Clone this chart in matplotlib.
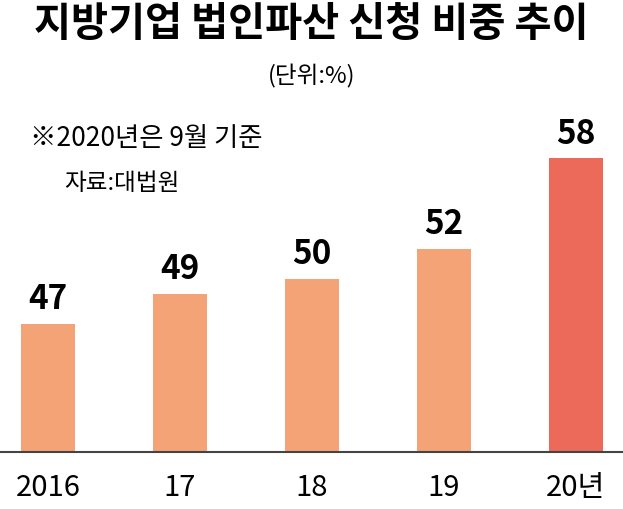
import matplotlib
matplotlib.use("Agg")
import matplotlib.pyplot as plt

# data
years = ["2016", "17", "18", "19", "20년"]
shares = [47, 49, 50, 52, 58]
bar_colors = ["#F4A377", "#F4A377", "#F4A377", "#F4A377", "#EC6A5A"]

title = "지방기업 법인파산 신청 비중 추이"
unit = "(단위:%)"
note = "※2020년은 9월 기준"
source = "자료:대법원"

num_font = ["Liberation Sans Narrow", "Noto Sans CJK KR", "DejaVu Sans"]
kr_font = ["Noto Sans CJK KR", "DejaVu Sans"]

fig = plt.figure(figsize=(6.23, 5.09), dpi=100)
ax = fig.add_axes([0, 0.112, 1, 0.69])

x = range(len(years))
bars = ax.bar(x, shares, width=0.41, color=bar_colors, zorder=2)

ax.set_xlim(-0.364, 4.356)
ax.set_ylim(38.5, 61.8)

for b, v in zip(bars, shares):
    ax.text(b.get_x() + b.get_width() / 2, v + 0.5, str(v),
            ha="center", va="bottom", fontsize=24, fontweight="bold",
            family=num_font)

for s in ["top", "right", "left"]:
    ax.spines[s].set_visible(False)
ax.spines["bottom"].set_color("#444444")
ax.spines["bottom"].set_linewidth(1.5)
ax.set_yticks([])
ax.set_xticks(list(x))
ax.set_xticklabels(years, fontsize=21, family=num_font)
ax.tick_params(axis="x", length=0, pad=15)

fig.text(0.5, 0.952, title, ha="center", va="center", fontsize=29,
         fontweight="bold", family=kr_font)
fig.text(0.5, 0.85, unit, ha="center", va="center", fontsize=17,
         family=kr_font)
fig.text(0.048, 0.728, note, ha="left", va="center", fontsize=19,
         family=kr_font)
fig.text(0.103, 0.64, source, ha="left", va="center", fontsize=17,
         family=kr_font)

plt.savefig("out.png", dpi=100)
